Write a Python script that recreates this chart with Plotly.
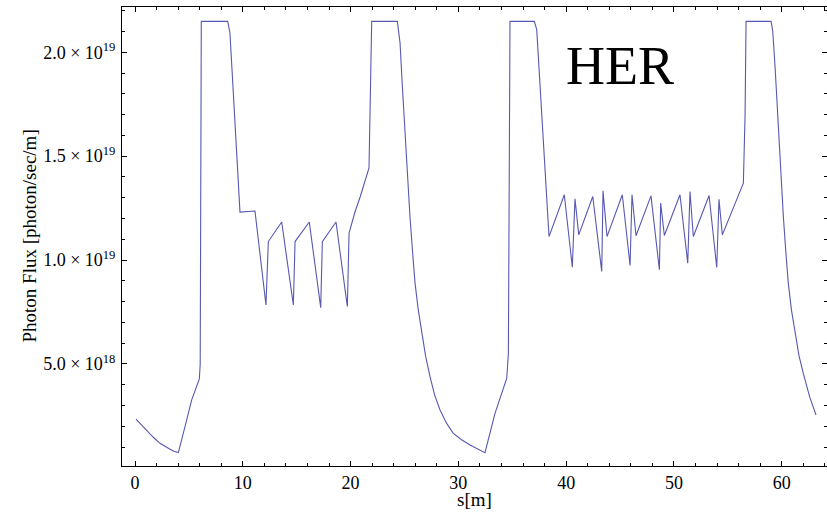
import plotly.graph_objects as go

# s [m] positions and photon flux [photon/sec/m]
s = [0.09, 0.6, 1.08, 1.7, 2.32, 2.8, 3.25, 3.6, 4.02,
     4.64, 5.26, 5.97, 6.05, 6.15, 8.6, 8.81, 9.53, 9.74,
     11.13, 12.15, 12.37, 13.61, 14.69, 14.85, 16.17, 17.23, 17.38,
     18.65, 19.70, 19.86, 20.4, 20.9, 21.71, 21.96, 24.34, 24.45, 24.59,
     24.8, 25.05, 25.28, 25.51, 25.75, 25.98, 26.28, 26.6, 26.97, 27.37,
     27.8, 28.3, 28.9, 29.53, 30.3, 31.08, 31.8, 32.47,
     33.4, 34.49, 34.64, 34.79, 37.05, 37.27, 38.41,
     39.83, 40.57, 40.82, 41.17, 42.47, 43.30, 43.42, 43.79,
     45.21, 45.93, 46.11, 46.48, 47.87, 48.65, 48.77, 49.11,
     50.56, 51.28, 51.49, 51.80, 53.26, 53.97, 54.18, 54.49,
     56.44, 56.60, 56.69, 59.01, 59.17, 59.38, 59.53, 59.69, 59.92, 60.15,
     60.38, 60.61, 60.9, 61.24, 61.6, 62.0, 62.6, 63.18]
flux = [2.34e18, 2.05e18, 1.82e18, 1.47e18, 1.18e18, 1.02e18, 0.89e18, 0.80e18, 0.73e18,
        1.98e18, 3.27e18, 4.28e18, 5.0e18, 21.49e18, 21.49e18, 20.93e18, 13.86e18, 12.31e18,
        12.36e18, 7.84e18, 10.89e18, 11.83e18, 7.84e18, 10.89e18, 11.83e18, 7.71e18, 10.89e18,
        11.83e18, 7.76e18, 11.30e18, 12.3e18, 13.06e18, 14.43e18, 21.49e18, 21.49e18, 21.1e18, 20.45e18,
        18.4e18, 16.11e18, 14.0e18, 12.10e18, 10.4e18, 8.89e18, 7.6e18, 6.48e18, 5.35e18, 4.39e18,
        3.5e18, 2.78e18, 2.15e18, 1.66e18, 1.35e18, 1.10e18, 0.9e18, 0.73e18,
        2.62e18, 4.31e18, 5.5e18, 21.49e18, 21.49e18, 21.09e18, 11.13e18,
        13.14e18, 9.66e18, 12.95e18, 11.21e18, 13.06e18, 9.45e18, 13.33e18, 11.13e18,
        13.14e18, 9.74e18, 13.14e18, 11.17e18, 13.09e18, 9.53e18, 12.74e18, 11.18e18,
        13.14e18, 9.85e18, 13.30e18, 11.13e18, 13.11e18, 9.64e18, 12.93e18, 11.21e18,
        13.70e18, 17.0e18, 21.49e18, 21.49e18, 21.0e18, 19.32e18, 17.8e18, 16.11e18, 14.0e18, 12.10e18,
        10.4e18, 8.89e18, 7.6e18, 6.48e18, 5.4e18, 4.55e18, 3.4e18, 2.54e18]

y_tickvals = [5.0e18, 1.0e19, 1.5e19, 2.0e19]
y_ticktext = ["5.0 × 10<sup>18</sup>", "1.0 × 10<sup>19</sup>",
              "1.5 × 10<sup>19</sup>", "2.0 × 10<sup>19</sup>"]
x_tickvals = [0, 10, 20, 30, 40, 50, 60]

FONT = "Liberation Serif"

fig = go.Figure()
fig.add_trace(go.Scatter(x=s, y=flux, mode="lines",
                         line=dict(color="rgb(88,88,178)", width=1.1, shape="linear"),
                         hoverinfo="skip", showlegend=False))

axis_common = dict(showgrid=False, zeroline=False, showline=True, linecolor="black",
                   linewidth=1, mirror="ticks", ticks="inside", ticklen=5,
                   tickcolor="black", tickwidth=1,
                   tickfont=dict(family=FONT, size=18, color="black"))

fig.update_xaxes(range=[-1.206, 64.2], tickmode="array", tickvals=x_tickvals,
                 minor=dict(dtick=2, tick0=0, ticks="inside", ticklen=3,
                            tickcolor="black", tickwidth=1),
                 **axis_common)
fig.update_yaxes(range=[0.087e18, 22.18e18], tickmode="array", tickvals=y_tickvals,
                 ticktext=y_ticktext, ticklabelstandoff=2,
                 minor=dict(dtick=1e18, tick0=0, ticks="inside", ticklen=3,
                            tickcolor="black", tickwidth=1),
                 **axis_common)

fig.add_annotation(text="Photon Flux [photon/sec/m]", xref="paper", yref="paper",
                   x=-0.1319, y=0.5, textangle=-90, showarrow=False,
                   xanchor="center", yanchor="middle",
                   font=dict(family=FONT, size=19, color="black"))
fig.add_annotation(text="s[m]", xref="paper", yref="paper", x=0.5, y=(466 - 499) / 459,
                   showarrow=False, xanchor="center", yanchor="middle",
                   font=dict(family=FONT, size=19, color="black"))
fig.add_annotation(text="HER", xref="paper", yref="paper", x=(620 - 122) / 705,
                   y=(466 - 66) / 459, showarrow=False, xanchor="center",
                   yanchor="middle", font=dict(family=FONT, size=54, color="black"))

fig.update_layout(width=827, height=512, margin=dict(l=122, r=0, t=7, b=46),
                  plot_bgcolor="white", paper_bgcolor="white")

fig.write_html("out.html")
